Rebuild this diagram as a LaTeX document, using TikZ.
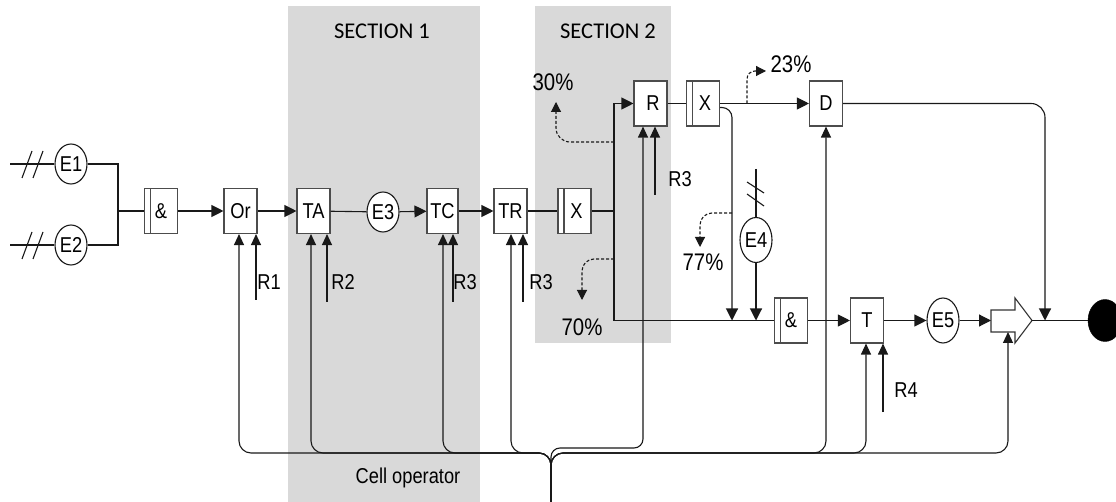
\documentclass[tikz,border=0pt]{standalone}
\usepackage{fontspec}
\setmainfont{Liberation Sans}[FakeStretch=0.85]
\newfontfamily\calib{Carlito}
\usetikzlibrary{arrows.meta,shapes.geometric}
\definecolor{secgray}{HTML}{D9D9D9}
\begin{document}
\begin{tikzpicture}[x=1pt,y=-1pt,
  ln/.style={line width=1.1pt,draw=black!90},
  arr/.style={ln,-{Triangle[length=12pt,width=12pt]}},
  uarr/.style={ln,-{Triangle[length=11pt,width=10pt]}},
  darr/.style={ln,dash pattern=on 3pt off 2pt,-{Triangle[length=10pt,width=10pt]}},
  lbl/.style={font=\fontsize{21.5}{24}\selectfont,inner sep=0pt},
  pct/.style={font=\fontsize{24}{28}\selectfont,inner sep=0pt},
  box/.style={draw=black!70,line width=1.1pt,fill=white,minimum width=33pt,minimum height=45pt,inner sep=0pt,font=\fontsize{21.5}{24}\selectfont},
  barbox/.style={box,path picture={\draw[black!70,line width=1.1pt] ([xshift=6pt]path picture bounding box.south west) -- ([xshift=6pt]path picture bounding box.north west);}},
  ell/.style={ellipse,draw=black!90,line width=1.1pt,fill=white,minimum width=32pt,minimum height=40pt,inner sep=0pt,font=\fontsize{21.5}{24}\selectfont}
]
\useasboundingbox (0,0) rectangle (1116,502);
\clip (0,0) rectangle (1116,502);
% sections
\fill[secgray] (288,6) rectangle (480,502);
\fill[secgray] (535,6) rectangle (671,343);
\node[font=\calib\fontsize{22.5}{26}\selectfont] (S1) at (382,31) {SECTION 1};
\node[font=\calib\fontsize{22.5}{26}\selectfont] (S2) at (608,31) {SECTION 2};
\node[lbl] (cell) at (408,478) {Cell operator};

% feedback bus
\coordinate (stem) at (551,502);
\coordinate (bj) at (551,453);
\coordinate (bjR) at (551,448);
\coordinate (fOr) at (239,453);
\coordinate (fTA) at (311,453);
\coordinate (fTC) at (443,453);
\coordinate (fTR) at (511,453);
\coordinate (fR) at (643,448);
\coordinate (fD) at (826,453);
\coordinate (fT) at (866,453);
\coordinate (fP) at (1008,453);

% nodes
\node[ell] (E1) at (71,164) {E1};
\node[ell] (E2) at (71,245) {E2};
\node[barbox] (A1) at (161,211) {\&};
\node[box] (Or) at (240.5,211) {Or};
\node[box] (TA) at (313.5,211) {TA};
\node[ell] (E3) at (383,212) {E3};
\node[box,minimum width=31pt] (TC) at (442.5,211) {TC};
\node[box] (TR) at (510.5,211) {TR};
\node[barbox] (X1) at (574.5,211) {\hspace*{4pt}X};
\node[box] (R) at (650.5,103.5) {\hspace*{5pt}R};
\node[barbox] (X2) at (703,103.5) {\hspace*{4pt}X};
\node[box] (D) at (826,103.5) {D};
\node[ell,minimum height=45pt] (E4) at (756,240) {E4};
\node[barbox] (A2) at (791,320.5) {\&};
\node[box] (T) at (867,320.5) {T};
\node[ell,minimum height=45pt] (E5) at (943,320.5) {E5};
\node[ellipse,fill=black,draw=black,minimum width=34pt,minimum height=42pt,inner sep=0pt] (End) at (1105,320.5) {};

% pentagon arrow
\draw[draw=black!80,line width=1.1pt,fill=white] (991,310) -- (1015,310) -- (1015,298) -- (1032,320.5) -- (1015,343) -- (1015,332) -- (991,332) -- cycle;
\coordinate (Pin) at (991,320.5);
\coordinate (Ptip) at (1032,320.5);
\coordinate (Pbot) at (1008,332);

% inputs
\coordinate (in1) at (10,164);
\coordinate (in2) at (10,245);
\draw[ln] (in1) -- (E1.west);
\draw[ln] (in2) -- (E2.west);
\foreach \y in {164,245}{
  \draw[ln] (22,\y+14) -- (32,\y-13);
  \draw[ln] (33,\y+14) -- (43,\y-13);
}
\coordinate (J) at (118,211);
\draw[ln] (E1.east) -| (J);
\draw[ln] (E2.east) -| (J);
\draw[ln,line width=1.6pt] (J) -- (A1.west);

% main row
\draw[arr] (A1) -- (Or);
\draw[arr] (Or) -- (TA);
\draw[ln] (TA) -- (E3);
\draw[arr] (E3) -- (TC);
\draw[arr] (TC) -- (TR);
\draw[ln] (TR) -- (X1);
\coordinate (V) at (614,211);
\draw[ln] (X1) -- (V);
\draw[arr] (V) |- (R.west);
\draw[ln] (V) |- (A2.west);
\draw[ln] (R) -- (X2);
\draw[arr] (X2) -- (D);
\coordinate (V2) at (732,320.5);
\draw[arr,rounded corners=10pt] ([yshift=-4pt]X2.east) -| (V2);
\coordinate (E4top) at (756,169);
\draw[ln] (E4top) -- (E4.north);
\draw[ln] (747,182) -- (764,193);
\draw[ln] (747,194) -- (764,206);
\draw[arr] (E4.south) -- (E4.south |- A2.west);
\draw[arr] (A2) -- (T);
\draw[arr] (T) -- (E5);
\draw[arr] (E5) -- (Pin);
\draw[ln] (Ptip) -- (End);
\coordinate (J2) at (1045,320.5);
\draw[arr,rounded corners=14pt] (D.east) -| (J2);

% dashed branches
\coordinate (d30) at (614,142); \coordinate (t30) at (556,102);
\draw[darr,rounded corners=14pt] (d30) -| (t30);
\coordinate (d70) at (614,259); \coordinate (t70) at (582,300);
\draw[darr,rounded corners=12pt] (d70) -| (t70);
\coordinate (d77) at (732,213); \coordinate (t77) at (700,247);
\draw[darr,rounded corners=12pt] (d77) -| (t77);
\coordinate (d23) at (747,103.5); \coordinate (t23) at (766,71);
\draw[darr,rounded corners=8pt] (d23) |- (t23);
\node[pct] (p30) at (553,82) {30\%};
\node[pct] (p70) at (582,327) {70\%};
\node[pct] (p77) at (703,262) {77\%};
\node[pct] (p23) at (791,64) {23\%};

% R lines
\coordinate (r1) at (256,300); \draw[uarr] (r1) -- (r1 |- Or.south);
\coordinate (r2) at (327,302); \draw[uarr] (r2) -- (r2 |- TA.south);
\coordinate (r3) at (453,302); \draw[uarr] (r3) -- (r3 |- TC.south);
\coordinate (r3b) at (523,302); \draw[uarr] (r3b) -- (r3b |- TR.south);
\coordinate (r3c) at (655,195); \draw[uarr] (r3c) -- (r3c |- R.south);
\coordinate (r4) at (883,412); \draw[uarr] (r4) -- (r4 |- T.south);
\node[lbl] (lR1) at (269,282) {R1};
\node[lbl] (lR2) at (343,282) {R2};
\node[lbl] (lR3) at (465,282) {R3};
\node[lbl] (lR3b) at (541,282) {R3};
\node[lbl] (lR3c) at (680,179) {R3};
\node[lbl] (lR4) at (906,390) {R4};

% feedback lines
\draw[uarr,rounded corners=12pt] (stem) -- (bj) -- (fOr) -- (fOr |- Or.south);
\draw[uarr,rounded corners=12pt] (stem) -- (bj) -- (fTA) -- (fTA |- TA.south);
\draw[uarr,rounded corners=12pt] (stem) -- (bj) -- (fTC) -- (fTC |- TC.south);
\draw[uarr,rounded corners=12pt] (stem) -- (bj) -- (fTR) -- (fTR |- TR.south);
\draw[uarr,rounded corners=9pt] (stem) -- (bjR) -- (fR) -- (fR |- R.south);
\draw[uarr,rounded corners=12pt] (stem) -- (bj) -- (fD) -- (fD |- D.south);
\draw[uarr,rounded corners=12pt] (stem) -- (bj) -- (fT) -- (fT |- T.south);
\draw[uarr,rounded corners=12pt] (stem) -- (bj) -- (fP) -- (Pbot);
\end{tikzpicture}
\end{document}
